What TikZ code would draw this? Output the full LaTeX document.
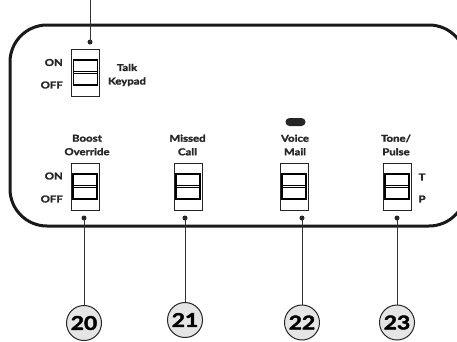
\documentclass[tikz,border=0pt]{standalone}
\usepackage{fontspec}
\setmainfont{Lato}[FakeStretch=1.2, BoldFeatures={FakeBold=2.2}]
\newcommand\slideswitch[3]{%
  \node[swout] (#1) at (#2,#3+23.5) {};
  \node[swin] (#1in) at (#2,#3+23.5) {};
  \draw[midline] ([yshift=1.1pt]#1in.west) -- ([yshift=1.1pt]#1in.east);
  \draw[midline] ([yshift=-1.1pt]#1in.west) -- ([yshift=-1.1pt]#1in.east);
}
\begin{document}
\begin{tikzpicture}[x=1pt,y=-1pt,
  lbl/.style={font=\bfseries\fontsize{9.5}{13.5}\selectfont, text=black!85, inner sep=0, align=center},
  swout/.style={draw=black!85, line width=0.9pt, minimum width=28pt, minimum height=47pt, inner sep=0, fill=white},
  swin/.style={draw=black, line width=1.4pt, minimum width=24pt, minimum height=25pt, inner sep=0},
  midline/.style={draw=black, line width=0.8pt},
  dotmark/.style={circle, fill=black!85, minimum size=5pt, inner sep=0},
  lead/.style={draw=black!80, line width=1pt},
  num/.style={circle, draw=black!85, line width=1pt, fill=black!10, minimum size=35pt, inner sep=0, font=\bfseries\fontsize{19}{19}\selectfont},
  panel/.style={draw=black!90, line width=3pt, rounded corners=37pt},
  led/.style={fill=black!85, rounded corners=4pt, minimum width=20pt, minimum height=8pt, inner sep=0}]
\useasboundingbox (0,0) rectangle (457,341);
\begin{scope}
  \clip (0,0) rectangle (457,341);
  \draw[panel] (10,25) rectangle (466,226);
\end{scope}
% top switch
\coordinate (topend) at (90,0);
\node[dotmark] (dtop) at (90,42) {};
\draw[lead] (topend) -- (dtop.center);
\slideswitch{stalk}{85.5}{49}
\node[lbl, anchor=east] (ontop) at (63,62.5) {ON};
\node[lbl, anchor=east] (offtop) at (63,85) {OFF};
\node[lbl] (ltalk) at (127,75) {Talk\\Keypad};
% bottom switches
\slideswitch{sboost}{85}{163}
\slideswitch{smissed}{188}{163}
\slideswitch{svoice}{294}{163}
\slideswitch{stone}{397}{163}
\node[lbl] (lboost) at (87,145) {Boost\\Override};
\node[lbl] (lmissed) at (187.5,145) {Missed\\Call};
\node[lbl] (lvoice) at (295,145) {Voice\\Mail};
\node[lbl] (ltone) at (396,145) {Tone/\\Pulse};
\node[led] (ledv) at (295.5,122) {};
\node[lbl, anchor=east] (onb) at (63,176) {ON};
\node[lbl, anchor=east] (offb) at (63,199) {OFF};
\node[lbl] (tlbl) at (422,177) {T};
\node[lbl] (plbl) at (422,199) {P};
% dots, leads and numbers
\node[dotmark] (d20) at (84,218) {};
\node[dotmark] (d21) at (185,218) {};
\node[dotmark] (d22) at (302,218) {};
\node[dotmark] (d23) at (397,218) {};
\node[num] (n20) at (84,323) {20};
\node[num] (n21) at (185,320) {21};
\node[num] (n22) at (302,322.5) {22};
\node[num] (n23) at (397,322.5) {23};
\draw[lead] (d20.center) -- (n20.north);
\draw[lead] (d21.center) -- (n21.north);
\draw[lead] (d22.center) -- (n22.north);
\draw[lead] (d23.center) -- (n23.north);
\end{tikzpicture}
\end{document}
